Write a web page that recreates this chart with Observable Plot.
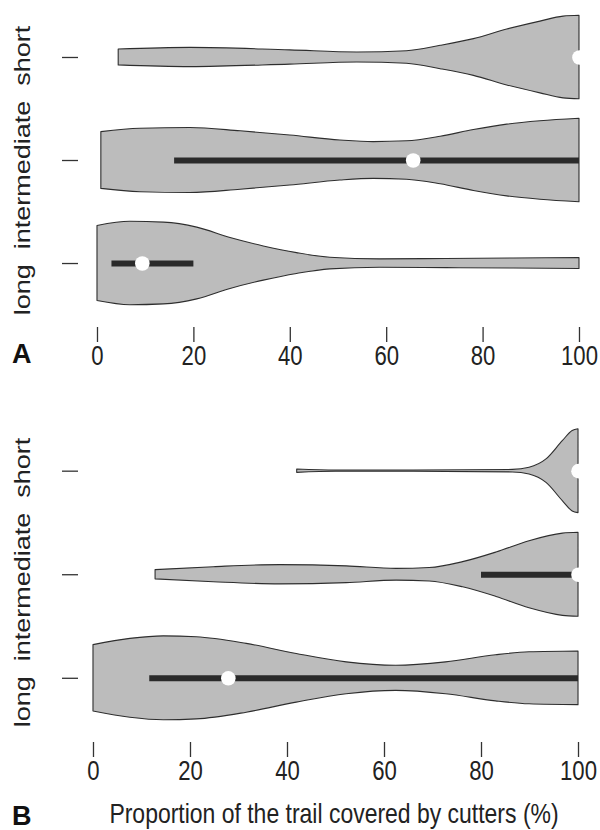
<!DOCTYPE html>
<html>
<head>
<meta charset="utf-8">
<script src="https://cdn.jsdelivr.net/npm/d3@7"></script>
<script src="https://cdn.jsdelivr.net/npm/@observablehq/plot@0.6"></script>
<style>
  html, body { margin: 0; padding: 0; background: #fff; }
  #wrap { position: relative; width: 600px; height: 830px; overflow: hidden; }
  .panel { position: absolute; left: 0; }
  .tag { position: absolute; font-family: "Liberation Sans", Arial, sans-serif; font-weight: bold; font-size: 27px; color: #111; line-height: 1; }
  .xtitle { position: absolute; left: 0; width: 668px; text-align: center; font-family: "Liberation Sans", Arial, sans-serif; font-size: 28px; color: #222; line-height: 1; transform: scaleX(0.82); transform-origin: 334px 50%; white-space: nowrap; }
</style>
</head>
<body>
<div id="wrap">
  <div id="pa" class="panel" style="top:0px"></div>
  <div id="pb" class="panel" style="top:400px"></div>
  <div class="tag" style="left:12px; top:341px">A</div>
  <div class="tag" style="left:12px; top:803px">B</div>
  <div class="xtitle" style="top:800px">Proportion of the trail covered by cutters (%)</div>
</div>
<script>
// ---- categories (bottom-to-top order: long, intermediate, short)
const categories = ["short", "intermediate", "long"];
const categoryLevel = [3, 2, 1];
const yLabel = "long\u00A0\u00A0intermediate\u00A0\u00A0short";
const xTicks = [0, 20, 40, 60, 80, 100];

// ---- Panel A violin outlines: value (%) and relative density (1 = widest)
const aShortX = [4.4, 19.3, 40.0, 53.9, 64.2, 71.2, 78.1, 85.0, 91.9, 96.7, 100];
const aShortD = [0.19, 0.23, 0.17, 0.12, 0.15, 0.28, 0.44, 0.67, 0.86, 0.98, 1.0];
const aInterX = [0.8, 8.9, 19.3, 29.7, 40.0, 50.4, 57.3, 64.2, 71.2, 78.1, 85.0, 91.9, 100];
const aInterD = [0.68, 0.76, 0.78, 0.70, 0.60, 0.48, 0.44, 0.46, 0.57, 0.73, 0.86, 0.94, 1.0];
const aLongX = [0, 6.8, 13.8, 20.7, 27.6, 34.5, 41.4, 48.3, 58.6, 72.4, 86.4, 100];
const aLongD = [0.90, 1.0, 0.98, 0.86, 0.61, 0.41, 0.25, 0.14, 0.10, 0.11, 0.12, 0.13];
// Panel A quartiles and medians (short, intermediate, long)
const aQ1 = [100, 16.0, 3.0];
const aQ3 = [100, 100, 20.0];
const aMedian = [100, 65.5, 9.3];

// ---- Panel B violin outlines
const bShortX = [42.0, 50, 66, 86.5, 89.9, 93.4, 96.8, 98.8, 100];
const bShortD = [0.04, 0.015, 0.015, 0.03, 0.08, 0.28, 0.72, 0.96, 1.0];
const bInterX = [12.8, 24.8, 38.5, 52.2, 62.5, 69.3, 76.2, 83.1, 89.9, 96.8, 100];
const bInterD = [0.11, 0.18, 0.23, 0.20, 0.14, 0.16, 0.30, 0.53, 0.80, 0.98, 1.0];
const bLongX = [0, 7.6, 14.5, 21.3, 31.6, 41.9, 52.2, 62.4, 72.7, 83.0, 89.9, 100];
const bLongD = [0.79, 0.94, 1.0, 0.98, 0.82, 0.58, 0.38, 0.30, 0.38, 0.55, 0.62, 0.64];
// Panel B quartiles and medians (short, intermediate, long)
const bQ1 = [100, 80.0, 11.6];
const bQ3 = [100, 100, 100];
const bMedian = [100, 100, 27.8];

const HALF = 0.405; // max half-width of a violin in category units

function outline(cat, xs, ds) {
  const lvl = categoryLevel[categories.indexOf(cat)];
  return xs.map((v, i) => ({cat, v, lo: lvl - HALF * ds[i], hi: lvl + HALF * ds[i]}));
}
function stats(q1, q3, med) {
  return categories.map((c, i) => ({cat: c, lvl: categoryLevel[i], q1: q1[i], q3: q3[i], med: med[i]}));
}

const font = `"Liberation Sans", Arial, sans-serif`;
const ink = "#333";

function panel({violins, st, xDomain, yDomain, height, marginTop, marginBottom}) {
  return Plot.plot({
    width: 600,
    height,
    marginLeft: 78,
    marginRight: 600 - 588,
    marginTop,
    marginBottom,
    style: {fontFamily: font, fontSize: "27px", color: "#222", background: "white", overflow: "visible"},
    x: {domain: xDomain},
    y: {domain: yDomain},
    marks: [
      Plot.area(violins, {x1: "v", y1: "lo", y2: "hi", z: "cat", fill: "#bcbcbc", stroke: "#2e2e2e", strokeWidth: 1.1, curve: "monotone-x"}),
      Plot.ruleY(st, {y: "lvl", x1: "q1", x2: "q3", stroke: "#2a2a2a", strokeWidth: 6}),
      Plot.dot(st, {x: "med", y: "lvl", r: 7.3, fill: "white", stroke: null}),
      Plot.axisX({ticks: xTicks, tickSize: 15, tickPadding: 3, line: true, stroke: ink, strokeWidth: 1.3, label: null, fontSize: 27, fill: "#222"}),
      Plot.axisY({ticks: categoryLevel, tickSize: 16, tickFormat: () => "", line: true, stroke: ink, strokeWidth: 1.3, label: null}),
      Plot.text([yLabel], {frameAnchor: "left", dx: -55, rotate: -90, text: d => d, fontSize: 27, fontFamily: font, fill: "#222", textAnchor: "middle", lineAnchor: "middle"})
    ]
  });
}

// append a local scale to text glyphs (reference uses tall, narrow lettering)
function squeeze(sel, sx, sy) {
  sel.each(function() {
    const t = this.getAttribute("transform") || "";
    this.setAttribute("transform", `${t} scale(${sx},${sy})`);
  });
}

const violinsA = [
  ...outline("short", aShortX, aShortD),
  ...outline("intermediate", aInterX, aInterD),
  ...outline("long", aLongX, aLongD)
];
const violinsB = [
  ...outline("short", bShortX, bShortD),
  ...outline("intermediate", bInterX, bInterD),
  ...outline("long", bLongX, bLongD)
];

// Panel A: frame 13..327 px, ticks at 57/160/263; x: 0->97px, 100->579px
const svgA = panel({
  violins: violinsA, st: stats(aQ1, aQ3, aMedian),
  xDomain: [-3.94, 101.87], yDomain: [0.379, 3.427],
  height: 370, marginTop: 13, marginBottom: 43
});
// Panel B: frame 422..742 px (in page); x: 0->93px, 100->579px
const svgB = panel({
  violins: violinsB, st: stats(bQ1, bQ3, bMedian),
  xDomain: [-3.09, 102.06], yDomain: [0.38, 3.47],
  height: 430, marginTop: 22, marginBottom: 88
});

for (const s of [svgA, svgB]) {
  const texts = d3.select(s).selectAll("text");
  squeeze(texts.filter(function() { return (this.getAttribute("transform") || "").includes("rotate(-90"); }), 1, 0.8);
  squeeze(d3.select(s).selectAll('g[aria-label="x-axis tick label"] text'), 0.82, 1);
}
document.getElementById("pa").appendChild(svgA);
document.getElementById("pb").appendChild(svgB);
</script>
</body>
</html>
